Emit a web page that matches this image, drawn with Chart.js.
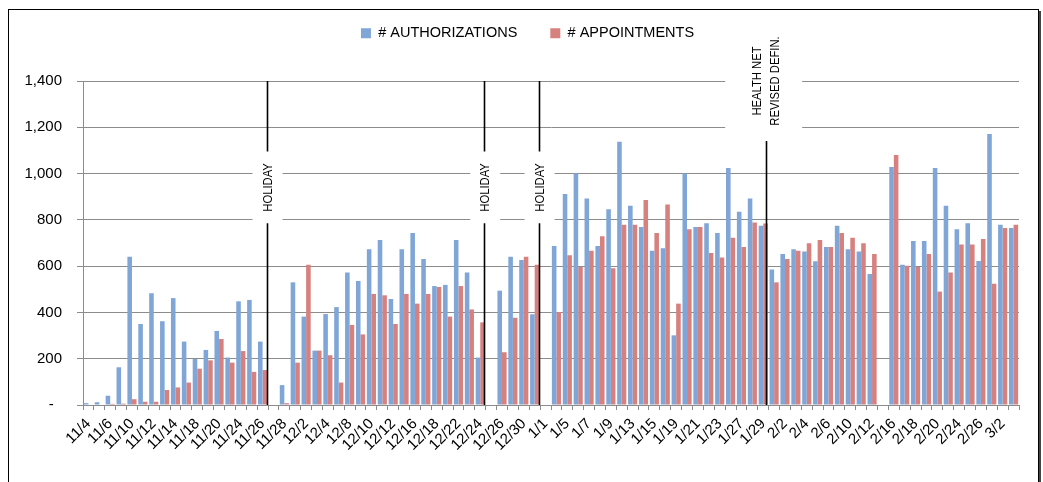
<!DOCTYPE html>
<html>
<head>
<meta charset="utf-8">
<script src="https://cdn.jsdelivr.net/npm/chart.js@4.4.1/dist/chart.umd.min.js"></script>
<style>
html,body{margin:0;padding:0;background:#fff;}
canvas{display:block;}
</style>
</head>
<body>
<canvas id="c" width="1043" height="482"></canvas>
<script>
// ---- data ----
const categories = [
  '11/4','11/5','11/6','11/7','11/10','11/11','11/12','11/13','11/14','11/17','11/18','11/19','11/20','11/21','11/24','11/25','11/26','11/27','11/28',
  '12/1','12/2','12/3','12/4','12/5','12/8','12/9','12/10','12/11','12/12','12/15','12/16','12/17','12/18','12/19','12/22','12/23','12/24','12/25','12/26','12/29','12/30','12/31',
  '1/1','1/2','1/5','1/6','1/7','1/8','1/9','1/12','1/13','1/14','1/15','1/16','1/19','1/20','1/21','1/22','1/23','1/26','1/27','1/28','1/29','1/30',
  '2/2','2/3','2/4','2/5','2/6','2/9','2/10','2/11','2/12','2/13','2/16','2/17','2/18','2/19','2/20','2/23','2/24','2/25','2/26','2/27',
  '3/2','3/3'
];
const authorizations = [
  8,12,40,163,641,350,483,362,462,274,199,238,320,205,448,454,274,null,
  86,530,382,235,393,423,572,536,673,713,458,673,743,631,514,519,713,572,205,null,
  494,641,627,392,null,687,912,1000,892,687,846,1137,861,769,667,677,301,1000,769,785,743,1024,835,892,775,
  586,653,673,663,621,683,775,673,663,566,null,1028,606,709,709,1024,861,759,785,622,1171,779,765
];
const appointments = [
  0,0,5,6,25,14,14,65,76,97,157,193,285,183,233,143,151,null,
  8,183,606,235,215,97,346,305,480,474,350,480,438,480,510,382,514,413,357,null,
  228,377,641,606,null,402,647,596,667,729,591,779,779,886,743,866,438,759,769,657,637,723,683,789,784,
  530,631,667,699,713,683,743,723,699,653,null,1080,602,596,653,490,572,693,693,717,524,765,779
];
const seriesNames = ['# AUTHORIZATIONS', '# APPOINTMENTS'];
const holidayDates = ['11/27', '12/25', '1/1'];
const holidayText = 'HOLIDAY';
const noteDate = '1/30';
const noteLines = ['HEALTH NET', 'REVISED DEFIN.'];

// ---- styles ----
const FONT = "'Liberation Sans', Arial, sans-serif";
const BLUE = '#7fa6d6';
const RED = '#d7817f';
const GRID = '#8c8c8c';

function boundaryBefore(xs, label) {
  const i = categories.indexOf(label);
  return xs.getPixelForValue(i - 0.5);
}

function vText(ctx, text, x, y) {
  ctx.save();
  ctx.translate(x, y);
  ctx.rotate(-Math.PI / 2);
  ctx.scale(0.9, 1);
  ctx.font = '12.5px ' + FONT;
  ctx.textAlign = 'center';
  ctx.textBaseline = 'middle';
  ctx.fillStyle = '#000';
  ctx.fillText(text, 0, 0);
  ctx.restore();
}

const legendHeight = {
  id: 'legendHeight',
  afterInit(chart) {
    const lg = chart.legend;
    if (!lg) return;
    const f = lg.fit;
    lg.fit = function () { f.call(this); if (this.isHorizontal()) this.height = 88; };
  }
};

const annotations = {
  id: 'annotations',
  beforeDatasetsDraw(chart) {
    const {ctx, scales: {x, y}, chartArea} = chart;
    ctx.save();
    ctx.fillStyle = '#fff';
    holidayDates.forEach(d => {
      const px = boundaryBefore(x, d) - 1.5;
      const t = y.getPixelForValue(1095), b = y.getPixelForValue(785);
      ctx.fillRect(px - 14, t, 30, b - t);
    });
    const hx = boundaryBefore(x, noteDate) - 2.5;
    const top = chartArea.top - 12;
    ctx.fillRect(hx - 41, top, 77, y.getPixelForValue(1141) - top);
    ctx.restore();
  },
  afterDatasetsDraw(chart) {
    const {ctx, scales: {x, y}, chartArea} = chart;
    ctx.save();
    ctx.strokeStyle = '#000';
    ctx.lineWidth = 1.6;
    const gTop = y.getPixelForValue(1095), gBot = y.getPixelForValue(785);
    holidayDates.forEach(d => {
      const px = Math.round(boundaryBefore(x, d) - 1.5) + 0.5;
      ctx.beginPath();
      ctx.moveTo(px, chartArea.top); ctx.lineTo(px, gTop);
      ctx.moveTo(px, gBot); ctx.lineTo(px, chartArea.bottom);
      ctx.stroke();
      vText(ctx, holidayText, px + 1, (gTop + gBot) / 2);
    });
    const hx = Math.round(boundaryBefore(x, noteDate) - 2.5) + 0.5;
    const lt = y.getPixelForValue(1141);
    ctx.beginPath();
    ctx.moveTo(hx, lt); ctx.lineTo(hx, chartArea.bottom);
    ctx.stroke();
    const cy = y.getPixelForValue(1400);
    vText(ctx, noteLines[0], hx - 9, cy);
    vText(ctx, noteLines[1], hx + 9, cy);
    ctx.restore();
  },
  afterDraw(chart) {
    const {ctx} = chart;
    ctx.save();
    ctx.strokeStyle = '#000';
    ctx.lineWidth = 1;
    ctx.strokeRect(8.5, 9.5, 1030, 500);
    ctx.fillStyle = '#444';
    ctx.fillRect(1039, 11, 2, 480);
    ctx.restore();
  }
};

const bg = {
  id: 'bg',
  beforeDraw(chart) {
    const {ctx} = chart;
    ctx.save(); ctx.fillStyle = '#fff'; ctx.fillRect(0, 0, chart.width, chart.height); ctx.restore();
  }
};

new Chart(document.getElementById('c'), {
  type: 'bar',
  data: {
    labels: categories,
    datasets: [
      {label: seriesNames[0], data: authorizations, backgroundColor: BLUE, borderWidth: 0},
      {label: seriesNames[1], data: appointments, backgroundColor: RED, borderWidth: 0}
    ]
  },
  options: {
    responsive: false,
    animation: false,
    devicePixelRatio: 1,
    categoryPercentage: 0.84,
    barPercentage: 1.0,
    layout: {padding: {left: 12, right: 0, top: -7, bottom: 0}},
    plugins: {
      legend: {
        position: 'top',
        labels: {boxWidth: 10, boxHeight: 10, padding: 33, color: '#000', font: {family: FONT, size: 14.5}}
      },
      tooltip: {enabled: false}
    },
    scales: {
      x: {
        grid: {drawOnChartArea: false, drawTicks: true, tickLength: 5, color: GRID, offset: true},
        border: {color: GRID, width: 1},
        ticks: {
          autoSkip: false, maxRotation: 45, minRotation: 45, color: '#000', padding: 5,
          font: {family: FONT, size: 15},
          callback: (v, i) => (i % 2 === 0 ? categories[i] : '')
        },
        afterFit: s => { s.height = 77; s.paddingLeft = 0; s.paddingRight = 24; }
      },
      y: {
        min: 0, max: 1400,
        grid: {color: GRID, tickLength: 6, lineWidth: 1},
        border: {color: GRID, width: 1},
        ticks: {
          stepSize: 200, color: '#000', padding: 15,
          font: {family: FONT, size: 15},
          callback: v => (v === 0 ? '-  ' : v.toLocaleString('en-US'))
        },
        afterFit: s => { s.width = 71; s.paddingTop = 0; s.paddingBottom = 0; }
      }
    }
  },
  plugins: [bg, legendHeight, annotations]
});
</script>
</body>
</html>
